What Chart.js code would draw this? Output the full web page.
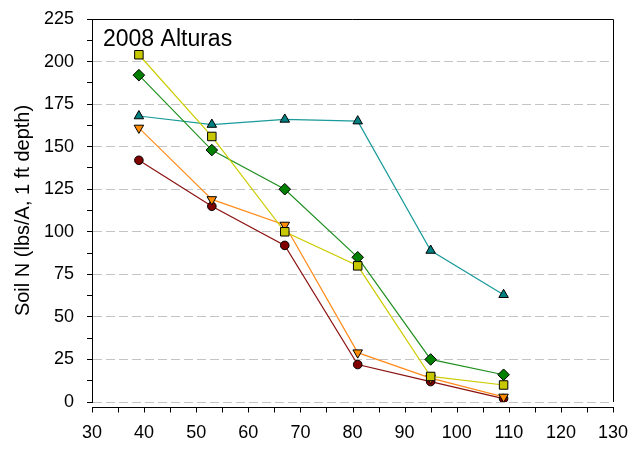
<!DOCTYPE html>
<html>
<head>
<meta charset="utf-8">
<script src="https://cdn.jsdelivr.net/npm/chart.js@4/dist/chart.umd.min.js"></script>
<style>
  html, body { margin: 0; padding: 0; background: #fff; }
  #wrap { width: 634px; height: 455px; position: relative; }
</style>
</head>
<body>
<div id="wrap"><canvas id="c"></canvas></div>
<script>
// Sampling depth / position along the x axis
const positions = [39, 53, 67, 81, 95, 109];

// Soil N (lbs/A, 1 ft depth) for each treatment
const seriesTeal   = [168, 163, 166, 165, 89, 63];
const seriesYellow = [204, 156, 100, 80, 15, 10];
const seriesGreen  = [192, 148, 125, 85, 25, 16];
const seriesOrange = [161, 119, 104, 29, 14, 3];
const seriesRed    = [142, 115, 92, 22, 12, 2];

const xTicks = { min: 30, max: 130, minor: 5, major: 10 };
const yTicks = { min: 0, max: 225, minor: 12.5, major: 25 };

const plotTitle = '2008 Alturas';
const yTitle = 'Soil N (lbs/A, 1 ft depth)';

const FONT = "'Liberation Sans', Arial, sans-serif";

function pts(vals) {
  return positions.map((x, i) => ({ x: x, y: vals[i] }));
}

function series(vals, line, fill, style, radius, rotation, order) {
  return {
    data: pts(vals),
    borderColor: line,
    borderWidth: 1.2,
    backgroundColor: fill,
    pointBackgroundColor: fill,
    pointBorderColor: '#000',
    pointBorderWidth: 1,
    pointStyle: style,
    pointRadius: radius,
    pointHoverRadius: radius,
    pointRotation: rotation,
    tension: 0,
    fill: false,
    order: order
  };
}

// Frame: top/right border of the plot, offset x axis line with its ticks, and the inset title
const framePlugin = {
  id: 'frame',
  afterDraw(chart) {
    const { ctx, chartArea: a, scales } = chart;
    const xs = scales.x;
    ctx.save();
    ctx.strokeStyle = '#000';
    ctx.lineWidth = 1;
    ctx.beginPath();
    ctx.moveTo(a.left, a.top + 0.5);
    ctx.lineTo(a.right + 0.5, a.top + 0.5);
    ctx.lineTo(a.right + 0.5, a.bottom);
    ctx.stroke();

    const axisY = Math.round(a.bottom) + 5.5;
    ctx.beginPath();
    ctx.moveTo(a.left, axisY);
    ctx.lineTo(a.right + 1, axisY);
    for (let v = xTicks.min; v <= xTicks.max; v += xTicks.minor) {
      const px = Math.round(xs.getPixelForValue(v)) + 0.5;
      ctx.moveTo(px, axisY);
      ctx.lineTo(px, axisY + 5);
    }
    ctx.stroke();

    ctx.fillStyle = '#000';
    ctx.font = '23px ' + FONT;
    ctx.textAlign = 'left';
    ctx.textBaseline = 'alphabetic';
    ctx.fillText(plotTitle, a.left + 11, a.top + 27);
    ctx.restore();
  }
};

new Chart(document.getElementById('c'), {
  type: 'line',
  data: {
    datasets: [
      series(seriesTeal,   '#1a9a9a', '#008080', 'triangle', 5.5, 0, 4),
      series(seriesRed,    '#8b1010', '#800000', 'circle',   4.3, 0, 3),
      series(seriesOrange, '#ff8c1a', '#ff8c00', 'triangle', 5.5, 180, 2),
      series(seriesGreen,  '#1f8f1f', '#008000', 'rectRot',  5.8, 0, 1),
      series(seriesYellow, '#cccc00', '#c8c800', 'rect',     6.0, 0, 0)
    ]
  },
  options: {
    responsive: true,
    maintainAspectRatio: false,
    animation: false,
    events: [],
    layout: { padding: { top: 19, right: 21, left: 0, bottom: 0 } },
    plugins: {
      legend: { display: false },
      tooltip: { enabled: false },
      title: { display: false }
    },
    scales: {
      x: {
        type: 'linear',
        min: xTicks.min,
        max: xTicks.max,
        afterFit(s) { s.height = 53; s.paddingLeft = 0; s.paddingRight = 0; },
        border: { display: false },
        grid: { display: false, drawTicks: false, drawOnChartArea: false },
        ticks: {
          stepSize: xTicks.minor,
          autoSkip: false,
          maxRotation: 0,
          padding: 20,
          color: '#000',
          font: { family: FONT, size: 18 },
          callback: v => (v % xTicks.major === 0 ? String(v) : '')
        }
      },
      y: {
        type: 'linear',
        min: yTicks.min,
        max: yTicks.max,
        afterFit(s) { s.width = 92; s.paddingTop = 0; s.paddingBottom = 0; },
        border: { display: true, color: '#000', width: 1, dash: [9, 4] },
        grid: {
          drawTicks: true,
          tickLength: 5,
          tickColor: '#000',
          tickWidth: 1,
          lineWidth: 1,
          color: c => (c.tick && c.tick.value % yTicks.major === 0 ? '#c4c4c4' : 'rgba(0,0,0,0)')
        },
        ticks: {
          stepSize: yTicks.minor,
          autoSkip: false,
          padding: 13,
          color: '#000',
          font: { family: FONT, size: 18 },
          callback: v => (v % yTicks.major === 0 ? String(v) : '')
        },
        title: {
          display: true,
          text: yTitle,
          color: '#000',
          font: { family: FONT, size: 20 },
          padding: { top: 11, bottom: 0 }
        }
      }
    }
  },
  plugins: [framePlugin]
});
</script>
</body>
</html>
